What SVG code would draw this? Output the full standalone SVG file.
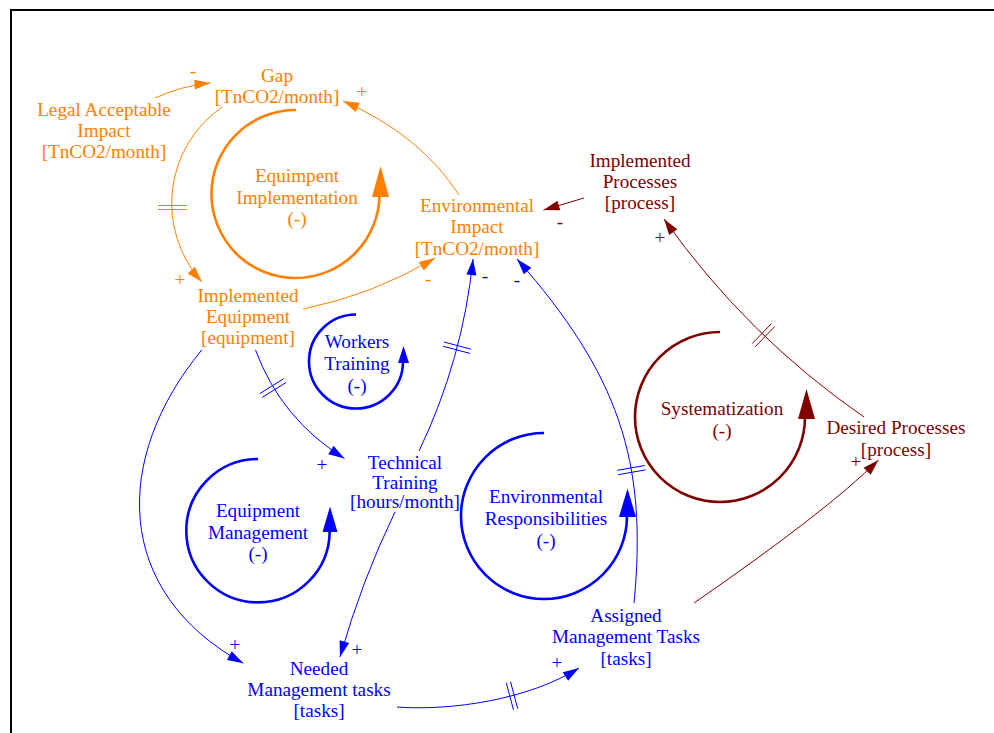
<svg xmlns="http://www.w3.org/2000/svg" width="994" height="733" viewBox="0 0 994 733">
<style>
text{font-family:"Liberation Serif","Times New Roman",serif;font-size:19.2px;text-anchor:middle}
.o{fill:#FF8000}.b{fill:#0000FF}.r{fill:#800000}
.lo{stroke:#FF8000}.lb{stroke:#0000FF}.lr{stroke:#800000}
.c{fill:none;stroke-width:1}
.loop{fill:none;stroke-width:2.6}
.dm{stroke-width:1;fill:none}
</style>
<defs>
<marker id="ao" viewBox="-17 -6 18 12" refX="0" refY="0" markerWidth="18" markerHeight="12" markerUnits="userSpaceOnUse" orient="auto"><path d="M0,0 L-16,-5 L-16,5Z" fill="#FF8000"/></marker>
<marker id="ab" viewBox="-17 -6 18 12" refX="0" refY="0" markerWidth="18" markerHeight="12" markerUnits="userSpaceOnUse" orient="auto"><path d="M0,0 L-16,-5 L-16,5Z" fill="#0000FF"/></marker>
<marker id="ar" viewBox="-17 -6 18 12" refX="0" refY="0" markerWidth="18" markerHeight="12" markerUnits="userSpaceOnUse" orient="auto"><path d="M0,0 L-16,-5 L-16,5Z" fill="#800000"/></marker>
</defs>
<rect width="994" height="733" fill="#fff"/>
<path d="M11,734 V10 H995" fill="none" stroke="#000" stroke-width="2"/>

<g id="connectors">
<!-- orange -->
<path class="c lo" d="M155,98 Q181,86 210.5,83" marker-end="url(#ao)"/>
<path class="c lo" d="M459,195 Q420,134.5 343,101" marker-end="url(#ao)"/>
<path class="c lo" d="M222,107 A117.3,117.3 0 0 0 202,282" marker-end="url(#ao)"/>
<path class="dm lo" d="M158,205.5 H187 M158,209.5 H187"/>
<path class="c lo" d="M303,309 Q373,295 435,258" marker-end="url(#ao)"/>
<!-- maroon -->
<path class="c lr" d="M584,198 L543.5,210" marker-end="url(#ar)"/>
<path class="c lr" d="M864,417 Q746.7,336 664,219" marker-end="url(#ar)"/>
<path class="dm lr" d="M771.5,323.5 L752.1,343.7 M774.7,326.5 L755.3,346.7"/>
<path class="c lr" d="M694,603 Q826.4,511.6 878.5,460" marker-end="url(#ar)"/>
<!-- blue -->
<path class="c lb" d="M255.5,350 Q281,419 344.5,458.5" marker-end="url(#ab)"/>
<path class="dm lb" d="M283.7,378.7 L259.9,393.5 M286.1,382.5 L262.3,397.3"/>
<path class="c lb" d="M201.7,350 C112.8,458.1 112.8,591.3 243.3,663.3" marker-end="url(#ab)"/>
<path class="c lb" d="M395,512 Q362,580 340,657" marker-end="url(#ab)"/>
<path class="c lb" d="M419,451 Q462.8,359.7 473,259" marker-end="url(#ab)"/>
<path class="dm lb" d="M471.1,349.2 L444,342 M469.9,353.4 L442.9,346.2"/>
<path class="c lb" d="M634,603 C648,460 618,374 517,259" marker-end="url(#ab)"/>
<path class="dm lb" d="M644.8,465.5 L617.2,470.3 M645.6,469.9 L618,474.7"/>
<path class="c lb" d="M397,707 C450,711 528,700 579,668" marker-end="url(#ab)"/>
<path class="dm lb" d="M513.5,709.9 L506.3,682.9 M517.7,708.7 L510.5,681.7"/>
</g>

<g id="polarities">
<text class="o" x="193" y="77">-</text>
<text class="o" x="362" y="98">+</text>
<text class="o" x="180" y="286">+</text>
<text class="o" x="428" y="285">-</text>
<text class="r" x="560" y="228">-</text>
<text class="r" x="660" y="244">+</text>
<text class="r" x="856" y="468">+</text>
<text class="b" x="322" y="471">+</text>
<text class="b" x="235" y="651">+</text>
<text class="b" x="357" y="656">+</text>
<text class="b" x="485" y="282">-</text>
<text class="b" x="517" y="286">-</text>
<text class="b" x="557" y="669">+</text>
</g>

<g id="gap"><text class="o" x="277" y="82">Gap</text><text class="o" x="277" y="103">[TnCO2/month]</text></g>
<g id="legal-acceptable-impact"><text class="o" x="104" y="116">Legal Acceptable</text><text class="o" x="104" y="137">Impact</text><text class="o" x="104" y="158">[TnCO2/month]</text></g>
<g id="environmental-impact"><text class="o" x="477" y="212">Environmental</text><text class="o" x="477" y="233">Impact</text><text class="o" x="477" y="255">[TnCO2/month]</text></g>
<g id="implemented-processes"><text class="r" x="640" y="167">Implemented</text><text class="r" x="640" y="188">Processes</text><text class="r" x="640" y="209">[process]</text></g>
<g id="implemented-equipment"><text class="o" x="248" y="302">Implemented</text><text class="o" x="248" y="323">Equipment</text><text class="o" x="248" y="344">[equipment]</text></g>
<g id="technical-training"><text class="b" x="405" y="469">Technical</text><text class="b" x="405" y="488.5">Training</text><text class="b" x="405" y="508">[hours/month]</text></g>
<g id="desired-processes"><text class="r" x="896" y="434">Desired Processes</text><text class="r" x="896" y="456">[process]</text></g>
<g id="needed-management-tasks"><text class="b" x="319" y="675">Needed</text><text class="b" x="319" y="696">Management tasks</text><text class="b" x="319" y="717">[tasks]</text></g>
<g id="assigned-management-tasks"><text class="b" x="626" y="622">Assigned</text><text class="b" x="626" y="643">Management Tasks</text><text class="b" x="626" y="665">[tasks]</text></g>

<g id="loop-equipment-implementation">
<path class="loop lo" stroke-width="3" d="M296,110 A84,84 0 1 0 379.5,194"/>
<polygon points="380.5,166 372,197 389,197" class="o"/>
<text class="o" x="297" y="182">Equimpent</text><text class="o" x="297" y="203.5">Implementation</text><text class="o" x="297" y="225">(-)</text>
</g>
<g id="loop-workers-training">
<path class="loop lb" d="M356,314.5 A47,47 0 1 0 403,361.5"/>
<polygon points="403.5,346 398,363 409,363" class="b"/>
<text class="b" x="357" y="348">Workers</text><text class="b" x="357" y="370">Training</text><text class="b" x="357" y="392">(-)</text>
</g>
<g id="loop-equipment-management">
<path class="loop lb" d="M258,459 A71.7,71.7 0 1 0 329.7,530.7"/>
<polygon points="330,506.5 322.5,532 337.5,532" class="b"/>
<text class="b" x="258" y="517">Equipment</text><text class="b" x="258" y="539">Management</text><text class="b" x="258" y="560">(-)</text>
</g>
<g id="loop-environmental-responsibilities">
<path class="loop lb" d="M544,433 A83,83 0 1 0 627,516"/>
<polygon points="627.5,488.5 619,517 636,517" class="b"/>
<text class="b" x="546" y="503">Environmental</text><text class="b" x="546" y="525">Responsibilities</text><text class="b" x="546" y="547">(-)</text>
</g>
<g id="loop-systematization">
<path class="loop lr" d="M720,332 A85,85 0 1 0 805,417"/>
<polygon points="806.5,389 798,419 815,419" class="r"/>
<text class="r" x="722" y="415">Systematization</text><text class="r" x="722" y="437">(-)</text>
</g>
</svg>
